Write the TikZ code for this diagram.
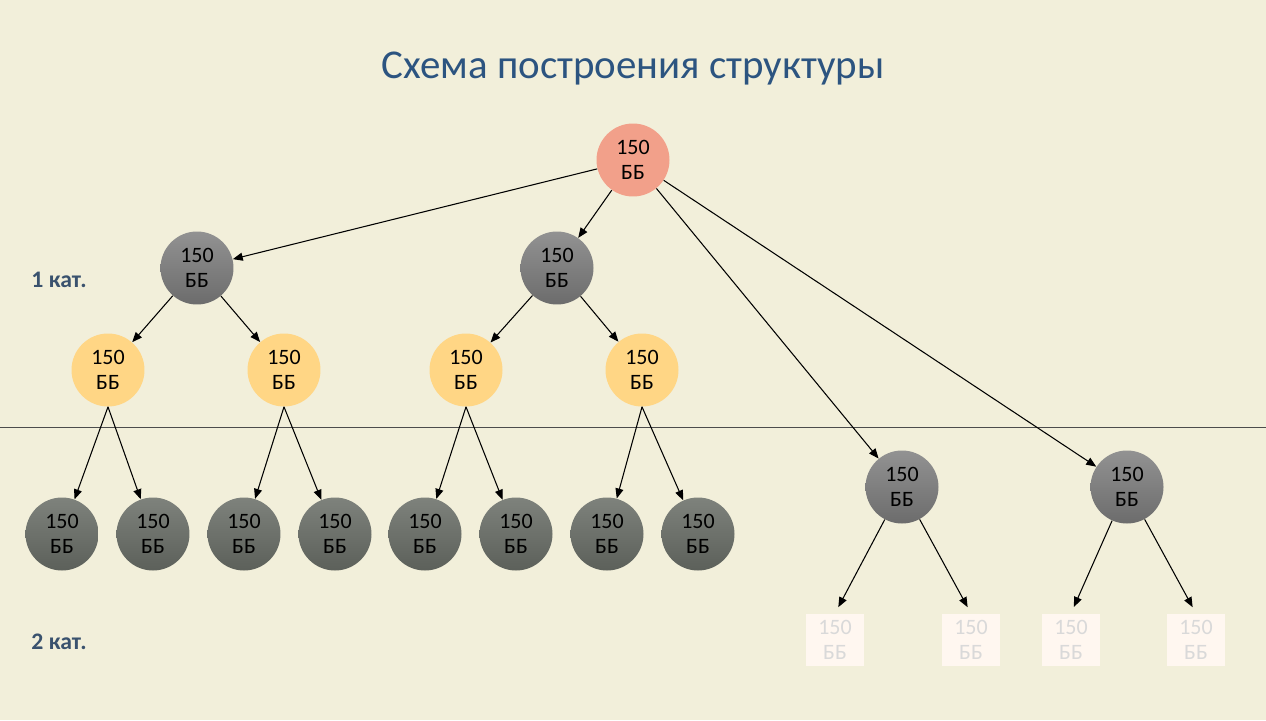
\documentclass[tikz,border=0pt]{standalone}
\usepackage{fontspec}
\setmainfont{Carlito}
\usepackage{tikz}
\usetikzlibrary{arrows.meta,positioning}
\definecolor{bgbeige}{RGB}{242,239,218}
\definecolor{rootsalmon}{RGB}{242,160,138}
\definecolor{ballyellow}{RGB}{255,214,133}
\definecolor{titleblue}{RGB}{44,84,128}
\definecolor{catblue}{RGB}{58,82,110}

\begin{document}
\begin{tikzpicture}[x=0.02cm, y=-0.02cm,
  ball/.style={circle, minimum size=1.46cm, inner sep=0pt, align=center,
               font=\fontsize{12.5}{14.5}\selectfont},
  rootball/.style={ball, fill=rootsalmon},
  yellowball/.style={ball, fill=ballyellow},
  grayball/.style={ball, top color={rgb,255:red,146;green,146;blue,146},
                   bottom color={rgb,255:red,108;green,108;blue,108}},
  darkball/.style={ball, top color={rgb,255:red,126;green,130;blue,124},
                   bottom color={rgb,255:red,92;green,96;blue,90}},
  fadebox/.style={rectangle, fill=orange!6, minimum width=1.15cm, minimum height=1.05cm,
                  align=center, text=black!15, font=\fontsize{12.5}{14.5}\selectfont},
  catlabel/.style={font=\bfseries\fontsize{13.5}{16}\selectfont, text=catblue},
  arr/.style={-{Triangle[length=0.2cm, width=0.16cm]}, line width=0.6pt, black}
]
\fill[bgbeige] (0,0) rectangle (1266,720);
\path[use as bounding box] (0,0) rectangle (1266,720);

\node[font=\fontsize{23.3}{28}\selectfont, text=titleblue] (title) at (633,69) {Схема построения структуры};

\draw[black!70, line width=0.5pt] (0,427) -- (1266,427);

\node[catlabel] (cat1) at (59,280) {1 кат.};
\node[catlabel] (cat2) at (59,642) {2 кат.};

\node[rootball] (root) at (633,160) {150\\ББ};

\node[grayball] (g1) at (197,268) {150\\ББ};
\node[grayball] (g2) at (557,268) {150\\ББ};
\node[grayball] (g3) at (902,487) {150\\ББ};
\node[grayball] (g4) at (1127,487) {150\\ББ};

\node[yellowball] (y1) at (108,370) {150\\ББ};
\node[yellowball] (y2) at (284,370) {150\\ББ};
\node[yellowball] (y3) at (466,370) {150\\ББ};
\node[yellowball] (y4) at (642,370) {150\\ББ};

\node[darkball] (d1) at (62,534) {150\\ББ};
\node[darkball] (d2) at (153,534) {150\\ББ};
\node[darkball] (d3) at (244,534) {150\\ББ};
\node[darkball] (d4) at (335,534) {150\\ББ};
\node[darkball] (d5) at (425,534) {150\\ББ};
\node[darkball] (d6) at (516,534) {150\\ББ};
\node[darkball] (d7) at (607,534) {150\\ББ};
\node[darkball] (d8) at (698,534) {150\\ББ};

\node[fadebox] (f1) at (835,640) {150\\ББ};
\node[fadebox] (f2) at (971,640) {150\\ББ};
\node[fadebox] (f3) at (1071,640) {150\\ББ};
\node[fadebox] (f4) at (1196,640) {150\\ББ};

\draw[arr] (root) -- (g1);
\draw[arr] (root) -- (g2);
\draw[arr] (root) -- (g3);
\draw[arr] (root) -- (g4);

\draw[arr] (g1) -- (y1);
\draw[arr] (g1) -- (y2);
\draw[arr] (g2) -- (y3);
\draw[arr] (g2) -- (y4);

\draw[arr] (y1.south) -- (d1);
\draw[arr] (y1.south) -- (d2);
\draw[arr] (y2.south) -- (d3);
\draw[arr] (y2.south) -- (d4);
\draw[arr] (y3.south) -- (d5);
\draw[arr] (y3.south) -- (d6);
\draw[arr] (y4.south) -- (d7);
\draw[arr] (y4.south) -- (d8);

\draw[arr, shorten >=4pt] (g3) -- (f1.north);
\draw[arr, shorten >=4pt] (g3) -- (f2.north);
\draw[arr, shorten >=4pt] (g4) -- (f3.north);
\draw[arr, shorten >=4pt] (g4) -- (f4.north);
\end{tikzpicture}
\end{document}
